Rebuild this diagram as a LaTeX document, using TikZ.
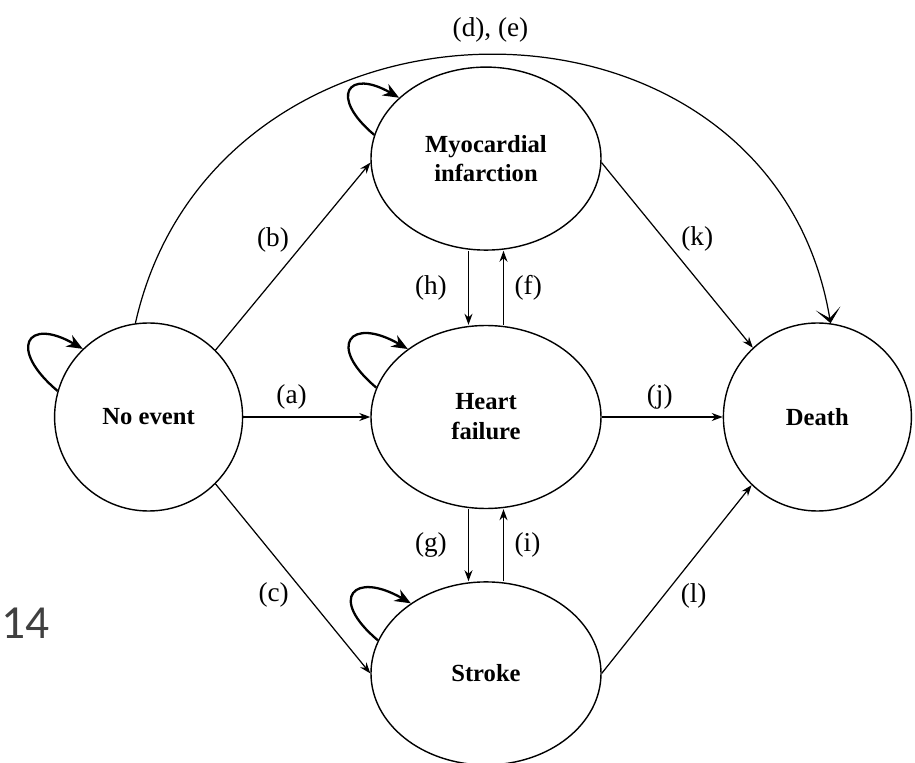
\documentclass[tikz,border=0pt]{standalone}
\usepackage{fontspec}
\setmainfont{Liberation Serif}
\newfontfamily\pagefont{Carlito}
\usetikzlibrary{arrows.meta,positioning,shapes.geometric}
\usepackage{xcolor}
\definecolor{pagegray}{RGB}{64,64,64}

\begin{document}
\begin{tikzpicture}[
    node distance=1.46cm,
    stage/.style={draw, ellipse, line width=0.8pt, minimum width=4.6cm, minimum height=3.66cm, font=\fontsize{14}{17}\selectfont\bfseries, align=center},
    terminal/.style={draw, circle, line width=0.8pt, minimum size=3.76cm, font=\fontsize{14}{17}\selectfont\bfseries, align=center},
    arrow/.style={-{Stealth[length=2.2mm, width=1.6mm]}, line width=0.7pt},
    selfloop/.style={-{Stealth[length=3.2mm, width=2.6mm]}, line width=1.3pt, out=140, in=150, looseness=3.4},
    lbl/.style={font=\fontsize{15.5}{17}\selectfont, inner sep=2pt},
]
    \useasboundingbox (-9.72,8.34) rectangle (8.58,-6.9);

    \node[stage] (hf) {Heart\\failure};
    \node[stage, above=1.48cm of hf] (mi) {Myocardial\\infarction};
    \node[stage, below=1.44cm of hf] (stroke) {Stroke};
    \node[terminal, left=2.54cm of hf] (ne) {No event};
    \node[terminal, right=2.42cm of hf] (death) {Death};

    \node[font=\pagefont\fontsize{27}{27}\selectfont, text=pagegray, anchor=west, inner sep=0pt] (pagenum) at (-9.70,-4.12) {14};

    % transitions out of no event
    \draw[arrow] (ne) -- (hf) node[lbl, pos=0.38, above=2pt] {(a)};
    \draw[arrow] (ne.45) -- (mi.182) node[lbl, midway, above left] {(b)};
    \draw[arrow] (ne.-45) -- (stroke.west) node[lbl, midway, below left] {(c)};
    \draw[line width=0.7pt, -{Stealth[length=3mm, width=5mm, inset=2mm, line width=0.5pt]}]
        (ne.98) .. controls +(1.6,7.14) and +(-1.2,7.18) .. (death.82)
        node[lbl, pos=0.5, above=5pt] {(d), (e)};

    % between the event states
    \draw[arrow] ([xshift=0.35cm]hf.north) -- ([xshift=0.35cm]mi.south) node[lbl, midway, right=4pt] {(f)};
    \draw[arrow] ([xshift=-0.35cm]hf.south) -- ([xshift=-0.35cm]stroke.north) node[lbl, midway, left=10pt] {(g)};
    \draw[arrow] ([xshift=-0.35cm]mi.south) -- ([xshift=-0.35cm]hf.north) node[lbl, midway, left=10pt] {(h)};
    \draw[arrow] ([xshift=0.35cm]stroke.north) -- ([xshift=0.35cm]hf.south) node[lbl, midway, right=4pt] {(i)};

    % into death
    \draw[arrow] (hf) -- (death) node[lbl, pos=0.48, above=2pt] {(j)};
    \draw[arrow] (mi.358) -- (death.133) node[lbl, midway, above right] {(k)};
    \draw[arrow] (stroke.east) -- (death.226) node[lbl, midway, below right] {(l)};

    % staying in the same state
    \draw[selfloop] (ne.164) to (ne.134);
    \draw[selfloop] (mi.168) to (mi.145);
    \draw[selfloop] (hf.165) to (hf.139);
    \draw[selfloop] (stroke.163) to (stroke.137);

\end{tikzpicture}
\end{document}
